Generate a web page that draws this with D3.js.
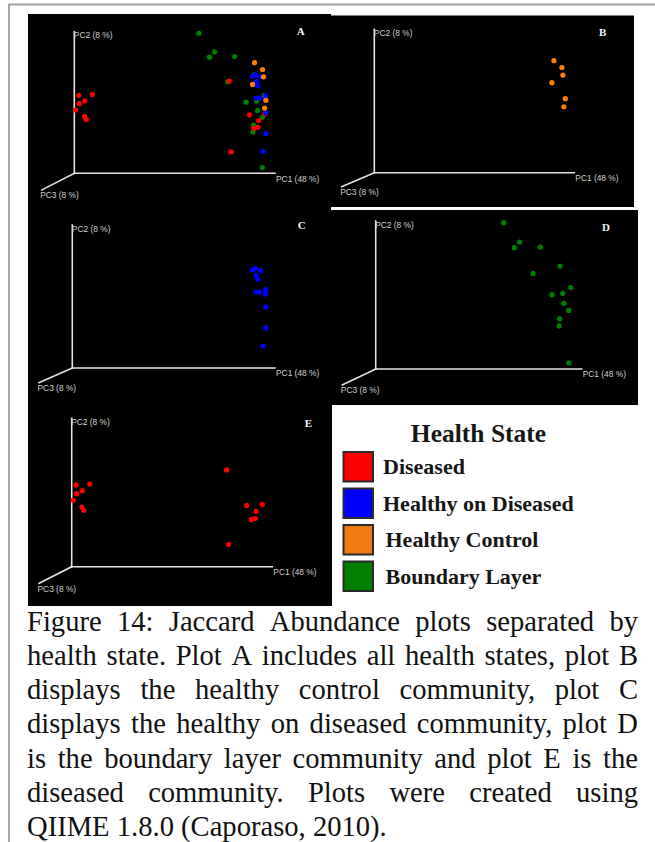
<!DOCTYPE html>
<html>
<head>
<meta charset="utf-8">
<script src="https://cdn.jsdelivr.net/npm/d3@7"></script>
<style>
  html, body { margin: 0; padding: 0; background: #fff; }
  svg { display: block; }
</style>
</head>
<body>
<svg id="figure" width="655" height="842"></svg>
<script>
// Projected PCoA coordinates, expressed as fractions of the PC1 / PC2 axis length.
const healthStates = ['Diseased', 'Healthy on Diseased', 'Healthy Control', 'Boundary Layer'];
const stateColors = ['#ff0000', '#0000ff', '#f27a12', '#007f00'];
const pointColors = ['#ff0000', '#0000ff', '#ff8000', '#008000'];

const diseased = [
    [0.022, 0.551], [0.090, 0.557], [0.053, 0.512], [0.025, 0.492], [0.007, 0.447], [0.051, 0.402], [0.060, 0.380],
    [0.772, 0.652], [0.872, 0.413], [0.950, 0.420], [0.919, 0.373], [0.915, 0.326], [0.895, 0.317], [0.782, 0.151]
];
const healthyOnDiseased = [
    [0.888, 0.685], [0.903, 0.695], [0.929, 0.681], [0.908, 0.648], [0.914, 0.620], [0.906, 0.531],
    [0.923, 0.531], [0.954, 0.548], [0.952, 0.517], [0.954, 0.427], [0.954, 0.280], [0.941, 0.154]
];
const healthyControl = [
    [0.898, 0.781], [0.938, 0.733], [0.943, 0.681], [0.888, 0.628], [0.955, 0.516], [0.948, 0.460]
];
const boundaryLayer = [
    [0.621, 0.989], [0.699, 0.858], [0.673, 0.820], [0.799, 0.824], [0.895, 0.696], [0.764, 0.646], [0.947, 0.550],
    [0.856, 0.502], [0.908, 0.511], [0.913, 0.444], [0.937, 0.396], [0.893, 0.340], [0.890, 0.291], [0.937, 0.041]
];

const axisLabels = ['PC1 (48 %)', 'PC2 (8 %)', 'PC3 (8 %)'];
const captionLines = [
    'Figure 14: Jaccard Abundance plots separated by',
    'health state. Plot A includes all health states, plot B',
    'displays the healthy control community, plot C',
    'displays the healthy on diseased community, plot D',
    'is the boundary layer community and plot E is the',
    'diseased community. Plots were created using',
    'QIIME 1.8.0 (Caporaso, 2010).'
];

document.addEventListener('DOMContentLoaded', () => {
    'use strict';

    let svg = d3.select('#figure');
    let groups = [diseased, healthyOnDiseased, healthyControl, boundaryLayer];

    // page frame (top and left rule)
    svg.append('line').attr('x1', 9).attr('y1', 4.5).attr('x2', 655).attr('y2', 4.5)
        .attr('stroke', '#a0a0a0').attr('stroke-width', 2);
    svg.append('line').attr('x1', 9).attr('y1', 4).attr('x2', 9).attr('y2', 842)
        .attr('stroke', '#8a8a8a').attr('stroke-width', 1.5);

    // layout of each QIIME snapshot: background box, axis origin, axis ends
    let panels = [
        {id: 'A', box: [28, 14, 303, 192], origin: [74.3, 173.3], x1: 275, y1: 31.7, pc3: [41.7, 190], letter: [300.7, 32.5], show: [3, 0, 1, 2]},
        {id: 'B', box: [331, 15.5, 303, 191.5], origin: [374.3, 172.7], x1: 574.3, y1: 29.3, pc3: [341.7, 186.7], letter: [602.7, 33], show: [2]},
        {id: 'C', box: [28, 206, 303, 194], origin: [72.3, 368], x1: 275, y1: 225, pc3: [39, 382.7], letter: [301.7, 226.5], show: [1]},
        {id: 'D', box: [331, 210, 307, 195], origin: [375.7, 369], x1: 581.7, y1: 221, pc3: [342.3, 385], letter: [606, 228.5], show: [3]},
        {id: 'E', box: [28, 400, 304, 206], origin: [71.7, 566.7], x1: 272.3, y1: 418.3, pc3: [39, 583.3], letter: [308.3, 424.5], show: [0]}
    ];

    panels.forEach(p => {
        let g = svg.append('g').attr('class', 'panel panel-' + p.id);

        g.append('rect')
            .attr('x', p.box[0]).attr('y', p.box[1])
            .attr('width', p.box[2]).attr('height', p.box[3])
            .attr('fill', '#000');

        let x = d3.scaleLinear().domain([0, 1]).range([p.origin[0], p.x1]);
        let y = d3.scaleLinear().domain([0, 1]).range([p.origin[1], p.y1]);

        let axes = g.append('g')
            .attr('stroke', '#e4e4e4')
            .attr('stroke-width', 1.6)
            .attr('stroke-linecap', 'square');
        axes.append('line').attr('x1', x(0)).attr('y1', y(0)).attr('x2', x(1)).attr('y2', y(0));
        axes.append('line').attr('x1', x(0)).attr('y1', y(0)).attr('x2', x(0)).attr('y2', y(1));
        axes.append('line').attr('x1', x(0)).attr('y1', y(0)).attr('x2', p.pc3[0]).attr('y2', p.pc3[1]);

        let labels = g.append('g')
            .attr('fill', '#d0d0d0')
            .attr('font-family', '"Liberation Sans", Arial, sans-serif')
            .attr('font-size', 8.4)
            .attr('dominant-baseline', 'middle');
        labels.append('text').attr('x', x(1) + 1).attr('y', y(0) + 6).text(axisLabels[0]);
        labels.append('text').attr('x', x(0) - 0.5).attr('y', y(1) + 4.5).text(axisLabels[1]);
        labels.append('text').attr('x', p.pc3[0] - 1.5).attr('y', p.pc3[1] + 6).text(axisLabels[2]);

        g.append('text')
            .attr('x', p.letter[0]).attr('y', p.letter[1])
            .attr('text-anchor', 'middle')
            .attr('dominant-baseline', 'middle')
            .attr('font-family', '"Liberation Serif", "Times New Roman", serif')
            .attr('font-weight', 'bold')
            .attr('font-size', 11)
            .attr('fill', '#f2f2ff')
            .text(p.id);

        p.show.forEach(i => {
            g.append('g').attr('class', 'points')
                .selectAll('circle')
                .data(groups[i])
              .enter().append('circle')
                .attr('cx', d => x(d[0]))
                .attr('cy', d => y(d[1]))
                .attr('r', 2.6)
                .attr('fill', pointColors[i]);
        });
    });

    // legend
    let legend = svg.append('g')
        .attr('class', 'legend')
        .attr('font-family', '"Liberation Serif", "Times New Roman", serif')
        .attr('font-weight', 'bold')
        .attr('fill', '#161616');

    legend.append('text')
        .attr('x', 478.5).attr('y', 441.5)
        .attr('text-anchor', 'middle')
        .attr('font-size', 25.5)
        .text('Health State');

    let legendY = d3.scalePoint().domain(healthStates).range([466.5, 576]);
    let legendItems = legend.selectAll('.legend-item')
        .data(healthStates)
      .enter().append('g')
        .attr('class', 'legend-item')
        .attr('transform', d => 'translate(0,' + legendY(d) + ')');
    legendItems.append('rect')
        .attr('x', 343.5).attr('y', -14.5)
        .attr('width', 29.5).attr('height', 29.5)
        .attr('fill', (d, i) => stateColors[i])
        .attr('stroke', '#2a2a2a')
        .attr('stroke-width', 2);
    legendItems.append('text')
        .attr('x', (d, i) => i >= 2 ? 385.5 : 383)
        .attr('y', 7.5)
        .attr('font-size', 22)
        .text(d => d);

    // caption: justified by stretching the gaps between words, last line left aligned
    const CAPTION_LEFT = 27;
    const CAPTION_WIDTH = 611;
    const CAPTION_SIZE = 28.6;
    let caption = svg.append('g')
        .attr('font-family', '"Liberation Serif", "Times New Roman", serif')
        .attr('font-size', CAPTION_SIZE)
        .attr('fill', '#111');

    captionLines.forEach((line, i) => {
        let text = caption.append('text').attr('y', 630.5 + i * 34.3);
        let words = line.split(' ');
        let spans = words.map(w => text.append('tspan').text(w));
        let widths = spans.map(s => s.node().getComputedTextLength());
        let total = d3.sum(widths);
        let last = i === captionLines.length - 1;
        let gap = last ? CAPTION_SIZE * 0.25 : (CAPTION_WIDTH - total) / (words.length - 1);
        let cursor = CAPTION_LEFT;
        spans.forEach((s, j) => {
            s.attr('x', cursor);
            cursor += widths[j] + gap;
        });
    });
});
</script>
</body>
</html>
